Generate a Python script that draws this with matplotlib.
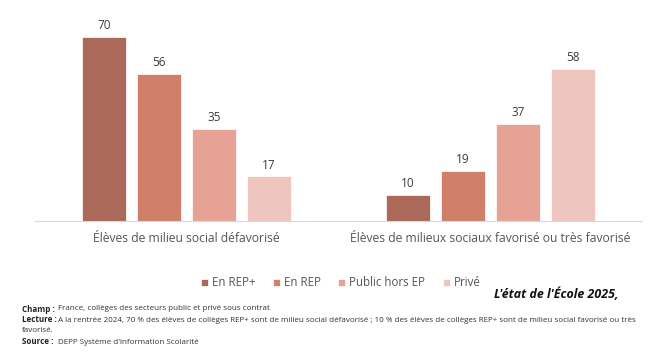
import matplotlib.pyplot as plt
import numpy as np

plt.rcParams['font.family'] = ['Open Sans', 'DejaVu Sans']

# Data
categories = ['Élèves de milieu social défavorisé',
              'Élèves de milieux sociaux favorisé ou très favorisé']
series = ['En REP+', 'En REP', 'Public hors EP', 'Privé']
values = {
    'En REP+': [70, 10],
    'En REP': [56, 19],
    'Public hors EP': [35, 37],
    'Privé': [17, 58],
}
colors = ['#ab6959', '#d07f6b', '#e6a295', '#efc5bf']

fig = plt.figure(figsize=(6.61, 3.58), dpi=100)
ax = fig.add_axes([35 / 661, 137 / 358, 607 / 661, 210 / 358])

x = np.arange(len(categories))
width = 0.145
step = 0.181
for i, (name, col) in enumerate(zip(series, colors)):
    pos = x + (i - 1.5) * step
    bars = ax.bar(pos, values[name], width, color=col, label=name,
                  edgecolor='white', linewidth=0.5)
    for b, v in zip(bars, values[name]):
        ax.annotate(str(v), (b.get_x() + b.get_width() / 2, v),
                    xytext=(0, 3.5), textcoords='offset points',
                    ha='center', va='bottom', fontsize=8.5, color='#3a3a3a')

ax.set_xlim(-0.5, 1.5)
ax.set_ylim(0, 80)
ax.set_xticks(x)
ax.set_xticklabels(categories, fontsize=8.75, color='#555555')
ax.tick_params(axis='x', length=0, pad=8)
ax.set_yticks([])
for s in ['top', 'right', 'left']:
    ax.spines[s].set_visible(False)
ax.spines['bottom'].set_color('#d9d9d9')

leg = fig.legend(loc='center', bbox_to_anchor=(341 / 661, 1 - 283 / 358), ncol=4,
                 frameon=False, fontsize=8.3, handlelength=0.6, handleheight=0.6,
                 handletextpad=0.35, columnspacing=1.5)
for t in leg.get_texts():
    t.set_color('#555555')

fig.text(619 / 661, 1 - 294 / 358, "L'état de l'École 2025,", ha='right', va='center',
         fontsize=8.9, style='italic', fontweight='bold', color='#111111')

notes = [
    (309, 'Champ :', 'France, collèges des secteurs public et privé sous contrat'),
    (320, 'Lecture :', 'A la rentrée 2024, 70 % des élèves de collèges REP+ sont de milieu social défavorisé ; '
                       '10 % des élèves de collèges REP+ sont de milieu social favorisé ou très'),
    (331, '', 'favorisé.'),
    (342, 'Source :', 'DEPP Système d\'information Scolarité'),
]
fs = 5.8
for y, head, body in notes:
    if head:
        fig.text(22 / 661, 1 - y / 358, head, fontsize=fs, fontweight='bold',
                 va='center', color='#222222')
        fig.text(58 / 661, 1 - y / 358, body, fontsize=fs, va='center', color='#333333')
    else:
        fig.text(22 / 661, 1 - y / 358, body, fontsize=fs, va='center', color='#333333')

fig.savefig('out.png', dpi=100)
